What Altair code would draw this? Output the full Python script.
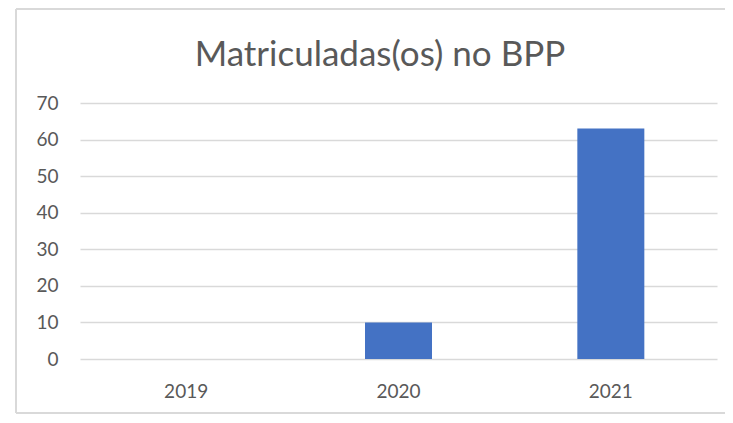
import altair as alt
import pandas as pd

years = ["2019", "2020", "2021"]
matriculas = [0, 10, 63]
title_text = "Matriculadas(os) no BPP"

df = pd.DataFrame({"ano": years, "valor": matriculas})

FONT = "Lato"
GRAY = "#595959"

bars = alt.Chart(df).mark_bar(size=67, color="#4472C4").encode(
    x=alt.X("ano:N", sort=years, title=None,
            scale=alt.Scale(paddingInner=0, paddingOuter=0),
            axis=alt.Axis(labelAngle=0, domain=False, ticks=False, labelPadding=23,
                          labelFontSize=19, labelColor=GRAY, labelFont=FONT, grid=False)),
    y=alt.Y("valor:Q", title=None,
            scale=alt.Scale(domain=[0, 70], nice=False),
            axis=alt.Axis(values=[0, 10, 20, 30, 40, 50, 60, 70], domain=False, ticks=False,
                          labelPadding=22, labelFontSize=19, labelColor=GRAY, labelFont=FONT,
                          grid=True, gridColor="#d9d9d9", gridWidth=1.5)),
)

title = alt.Chart(pd.DataFrame({"t": [title_text]})).mark_text(
    font=FONT, fontSize=35, color=GRAY, align="center", baseline="alphabetic"
).encode(text="t:N", x=alt.value(300), y=alt.value(-37))

border_color = "#d9d9d9"
left = alt.Chart(df).mark_rule(color=border_color, strokeWidth=1.5).encode(
    x=alt.value(-64), y=alt.value(-94), y2=alt.value(310))
top = alt.Chart(df).mark_rule(color=border_color, strokeWidth=1.5).encode(
    x=alt.value(-64), x2=alt.value(700), y=alt.value(-94))
bottom = alt.Chart(df).mark_rule(color=border_color, strokeWidth=1.5).encode(
    x=alt.value(-64), x2=alt.value(700), y=alt.value(310))

chart = alt.layer(bars, title, left, top, bottom).properties(
    width=637,
    height=256,
    autosize=alt.AutoSizeParams(type="none"),
    padding={"left": 72, "top": 95, "right": 8, "bottom": 56},
).configure_view(stroke=None)

chart.save("out.html", embed_options={"renderer": "svg", "actions": False})
